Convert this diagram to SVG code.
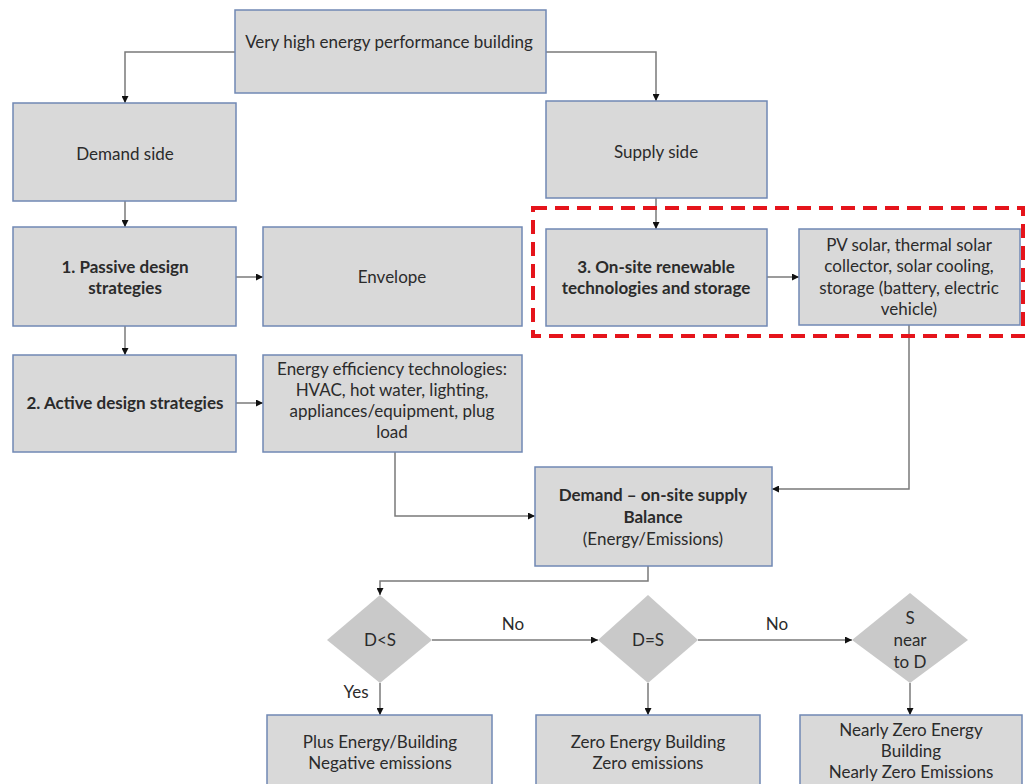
<svg xmlns="http://www.w3.org/2000/svg" width="1027" height="784" viewBox="0 0 1027 784">
<style>
.box{fill:#d9d9d9;stroke:#7088b4;stroke-width:1.5}
.dia{fill:#c9c9c9}
text{font-family:Lato,"Open Sans","Liberation Sans",sans-serif;font-size:17px;fill:#2b2b2b;text-anchor:middle}
.b{font-weight:bold}
.c{fill:none;stroke:#7a7a7a;stroke-width:1.5;marker-end:url(#ah)}
</style>
<defs>
<marker id="ah" viewBox="0 0 10 10" refX="10" refY="5" markerWidth="7" markerHeight="7" markerUnits="userSpaceOnUse" orient="auto">
<path d="M0,0 L10,5 L0,10 z" fill="#111"/>
</marker>
</defs>
<rect width="1027" height="784" fill="#fff"/>
<g id="connectors">
<path class="c" d="M235,52 H125 V103"/>
<path class="c" d="M546,52 H656 V101"/>
<path class="c" d="M125,201 V227"/>
<path class="c" d="M125,326 V355"/>
<path class="c" d="M236,277 H263"/>
<path class="c" d="M236,403 H263"/>
<path class="c" d="M656,198 V229"/>
<path class="c" d="M767,277 H799"/>
<path class="c" d="M909,325 V489 H772"/>
<path class="c" d="M395,452 V516 H535"/>
<path class="c" d="M648,566 V581 H380 V595"/>
<path class="c" d="M432,640 H598"/>
<path class="c" d="M698,640 H852"/>
<path class="c" d="M380,683 V715"/>
<path class="c" d="M648,683 V715"/>
<path class="c" d="M910,683 V715"/>
<text x="513" y="630">No</text>
<text x="777" y="630">No</text>
<text x="356" y="698">Yes</text>
</g>
<g id="top"><rect class="box" x="235" y="10" width="311" height="83"/><text x="389" y="48">Very high energy performance building</text></g>
<g id="demand"><rect class="box" x="13" y="103" width="223" height="98"/><text x="125" y="160">Demand side</text></g>
<g id="supply"><rect class="box" x="546" y="101" width="221" height="97"/><text x="656" y="158">Supply side</text></g>
<g id="passive"><rect class="box" x="13" y="227" width="223" height="99"/><text class="b" x="125" y="273">1. Passive design</text><text class="b" x="125" y="294">strategies</text></g>
<g id="envelope"><rect class="box" x="263" y="227" width="259" height="99"/><text x="392" y="283">Envelope</text></g>
<g id="active"><rect class="box" x="13" y="355" width="223" height="97"/><text class="b" x="125" y="409">2. Active design strategies</text></g>
<g id="efficiency"><rect class="box" x="263" y="355" width="259" height="97"/><text x="392" y="375">Energy efficiency technologies:</text><text x="392" y="396">HVAC, hot water, lighting,</text><text x="392" y="417">appliances/equipment, plug</text><text x="392" y="438">load</text></g>
<g id="onsite"><rect class="box" x="546" y="229" width="221" height="97"/><text class="b" x="656" y="273">3. On-site renewable</text><text class="b" x="656" y="294">technologies and storage</text></g>
<g id="pv"><rect class="box" x="799" y="229" width="221" height="96"/><text x="909" y="251">PV solar, thermal solar</text><text x="909" y="272">collector, solar cooling,</text><text x="909" y="294">storage (battery, electric</text><text x="909" y="315">vehicle)</text></g>
<g id="highlight"><rect x="533" y="208" width="490" height="128" fill="none" stroke="#e5141b" stroke-width="4" stroke-dasharray="14,8"/></g>
<g id="balance"><rect class="box" x="535" y="467" width="237" height="99"/><text class="b" x="653" y="501">Demand – on-site supply</text><text class="b" x="653" y="523">Balance</text><text x="653" y="545">(Energy/Emissions)</text></g>
<g id="dlts"><polygon class="dia" points="380,595 432,640 380,683 327,640"/><text x="380" y="646">D&lt;S</text></g>
<g id="deqs"><polygon class="dia" points="648,595 698,640 648,683 598,640"/><text x="648" y="646">D=S</text></g>
<g id="snear"><polygon class="dia" points="910,593 968,640 910,683 852,640"/><text x="910" y="624">S</text><text x="910" y="646">near</text><text x="910" y="668">to D</text></g>
<g id="plus"><rect class="box" x="267" y="715" width="225" height="80"/><text x="380" y="748">Plus Energy/Building</text><text x="380" y="769">Negative emissions</text></g>
<g id="zero"><rect class="box" x="536" y="715" width="224" height="80"/><text x="648" y="748">Zero Energy Building</text><text x="648" y="769">Zero emissions</text></g>
<g id="nearly"><rect class="box" x="800" y="715" width="222" height="80"/><text x="911" y="736">Nearly Zero Energy</text><text x="911" y="757">Building</text><text x="911" y="778">Nearly Zero Emissions</text></g>
</svg>
